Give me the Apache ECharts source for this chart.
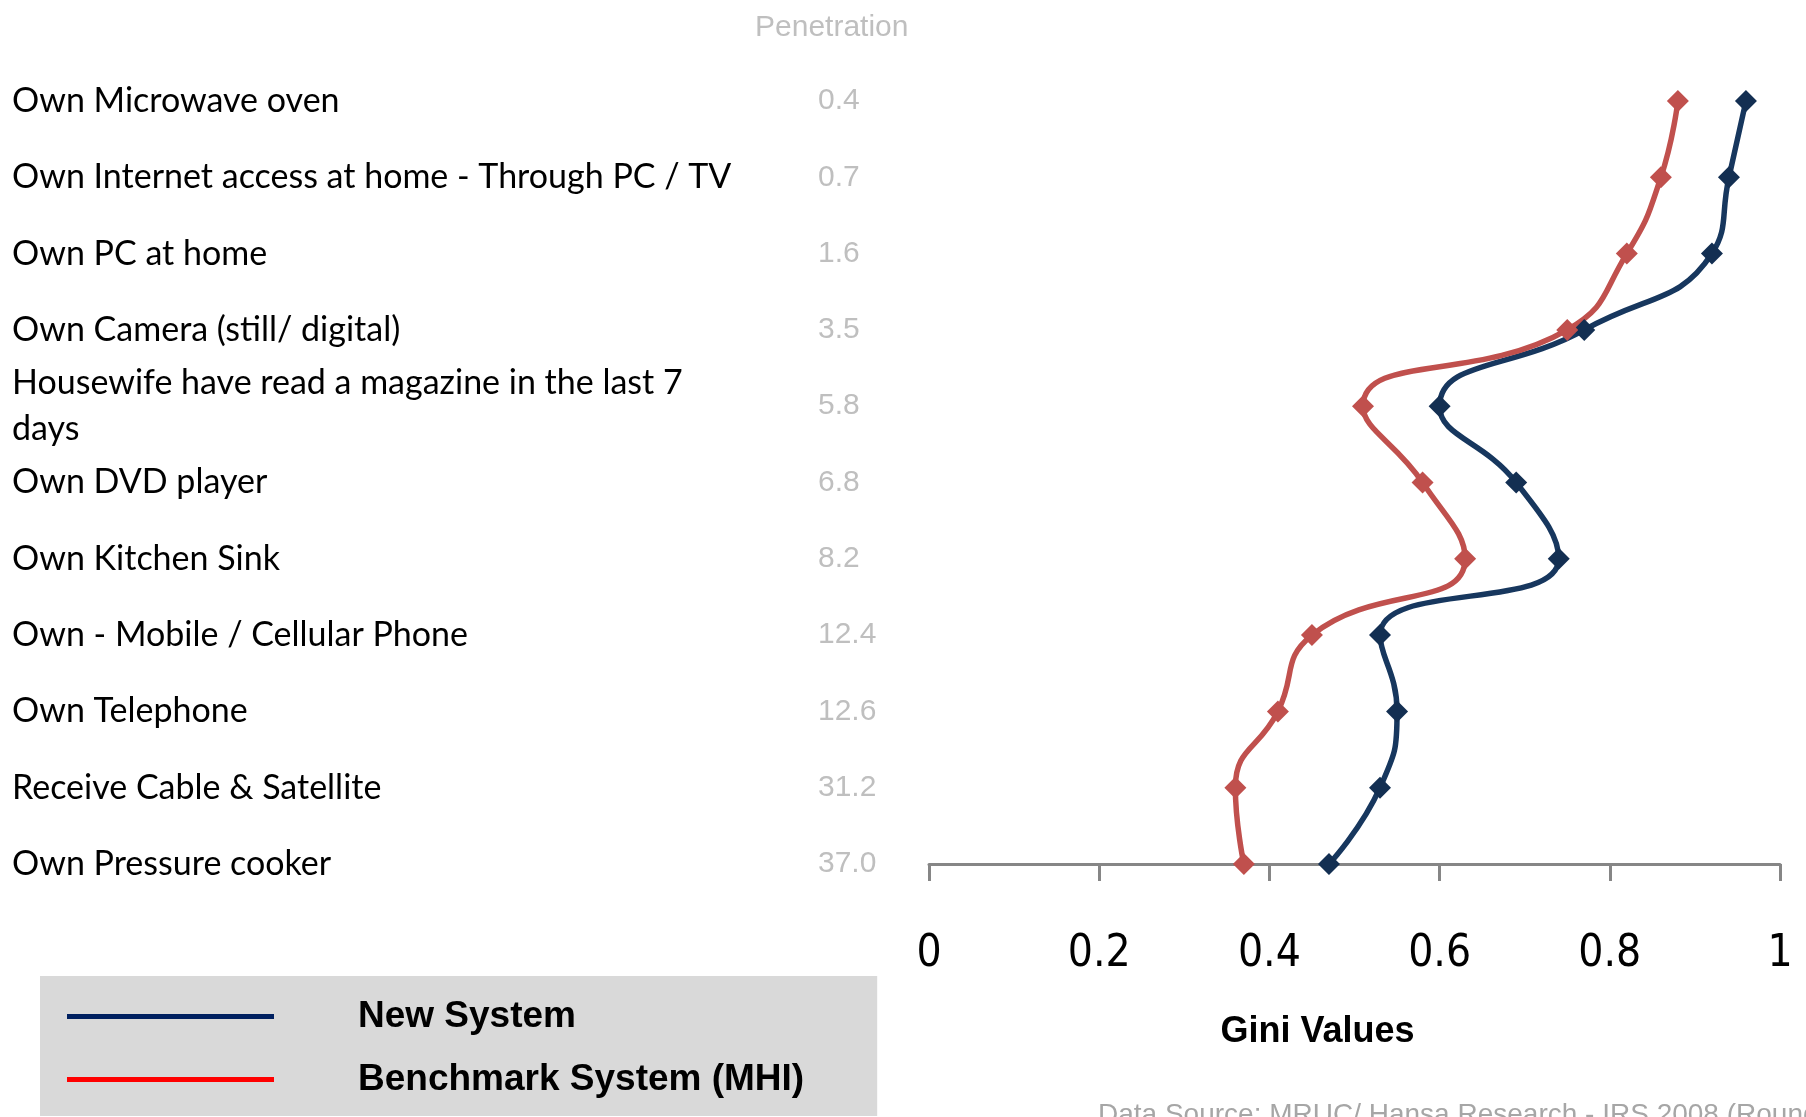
<!DOCTYPE html>
<html>
<head>
<meta charset="utf-8">
<title>Gini Values</title>
<script src="https://cdn.jsdelivr.net/npm/echarts@6/dist/echarts.min.js"></script>
<style>
  html, body { margin: 0; padding: 0; background: #fff; }
  #chart { width: 1806px; height: 1117px; }
</style>
</head>
<body>
<div id="chart"></div>
<script>
  // rows, top to bottom
  var items = [
    'Own Microwave oven',
    'Own Internet access at home - Through PC / TV',
    'Own PC at home',
    'Own Camera (still/ digital)',
    'Housewife have read a magazine in the last 7\ndays',
    'Own DVD player',
    'Own Kitchen Sink',
    'Own - Mobile / Cellular Phone',
    'Own Telephone',
    'Receive Cable & Satellite',
    'Own Pressure cooker'
  ];
  var penetration = ['0.4', '0.7', '1.6', '3.5', '5.8', '6.8', '8.2', '12.4', '12.6', '31.2', '37.0'];
  var newSystem = [0.96, 0.94, 0.92, 0.77, 0.60, 0.69, 0.74, 0.53, 0.55, 0.53, 0.47];
  var benchmark = [0.88, 0.86, 0.82, 0.75, 0.51, 0.58, 0.63, 0.45, 0.41, 0.36, 0.37];
  var giniTicks = [0, 0.2, 0.4, 0.6, 0.8, 1];

  var narrow = "'Liberation Sans Narrow', 'Arial Narrow', 'DejaVu Sans Condensed', sans-serif";
  var arial = "'Liberation Sans', Arial, sans-serif";

  var chart = echarts.init(document.getElementById('chart'));
  chart.setOption({
    animation: false,
    backgroundColor: '#fff',
    title: [
      {
        text: 'Penetration',
        left: 755, top: 13, padding: 0,
        textStyle: { color: '#bfbfbf', fontSize: 30, fontWeight: 'normal', fontFamily: arial }
      },
      {
        text: 'Data Source: MRUC/ Hansa Research - IRS 2008 (Round 2)',
        left: 1098, top: 1101, padding: 0,
        textStyle: { color: '#a6a6a6', fontSize: 28, fontWeight: 'normal', fontFamily: arial }
      }
    ],
    legend: {
      orient: 'vertical',
      left: 40, top: 976,
      backgroundColor: '#d9d9d9',
      padding: [22, 73, 18, 27],
      itemGap: 26,
      icon: 'rect',
      itemWidth: 207, itemHeight: 5,
      textStyle: { color: '#000', fontSize: 37, lineHeight: 37, fontWeight: 'bold', fontFamily: arial, padding: [0, 0, 0, 79] },
      data: [
        { name: 'New System', itemStyle: { color: '#002060' } },
        { name: 'Benchmark System (MHI)', itemStyle: { color: '#ff0000' } }
      ]
    },
    grid: { left: 929, right: 26, top: 101, bottom: 253, outerBoundsMode: 'none' },
    xAxis: {
      type: 'value',
      min: giniTicks[0], max: giniTicks[giniTicks.length - 1], interval: 0.2,
      name: 'Gini Values',
      nameLocation: 'middle',
      nameGap: 150,
      nameTextStyle: { color: '#000', fontSize: 36, fontWeight: 'bold', fontFamily: arial, padding: [0, 74, 0, 0] },
      axisLine: { show: true, lineStyle: { color: '#868686', width: 3 } },
      axisTick: { show: true, length: 17, lineStyle: { color: '#868686', width: 3 } },
      splitLine: { show: false },
      axisLabel: { margin: 69, color: '#000', fontSize: 44, fontFamily: narrow }
    },
    yAxis: [
      {
        type: 'category', inverse: true, boundaryGap: false,
        data: items,
        axisLine: { show: false }, axisTick: { show: false }, splitLine: { show: false },
        axisLabel: { interval: 0, align: 'left', margin: 917, color: '#000', fontSize: 34, lineHeight: 46, fontFamily: "Lato, 'Open Sans', sans-serif" }
      },
      {
        type: 'category', inverse: true, boundaryGap: false, position: 'left', offset: 0,
        data: penetration,
        axisLine: { show: false }, axisTick: { show: false }, splitLine: { show: false },
        axisLabel: { interval: 0, align: 'left', margin: 111, color: '#bfbfbf', fontSize: 30, fontFamily: arial }
      }
    ],
    series: [
      {
        name: 'New System', type: 'line', yAxisIndex: 0, smooth: true,
        data: newSystem,
        symbol: 'diamond', symbolSize: 22,
        lineStyle: { color: '#17375e', width: 5.5 },
        itemStyle: { color: '#132f52' }
      },
      {
        name: 'Benchmark System (MHI)', type: 'line', yAxisIndex: 0, smooth: true,
        data: benchmark,
        symbol: 'diamond', symbolSize: 22,
        lineStyle: { color: '#c0504d', width: 5.5 },
        itemStyle: { color: '#c0504d' }
      }
    ]
  });
</script>
</body>
</html>
